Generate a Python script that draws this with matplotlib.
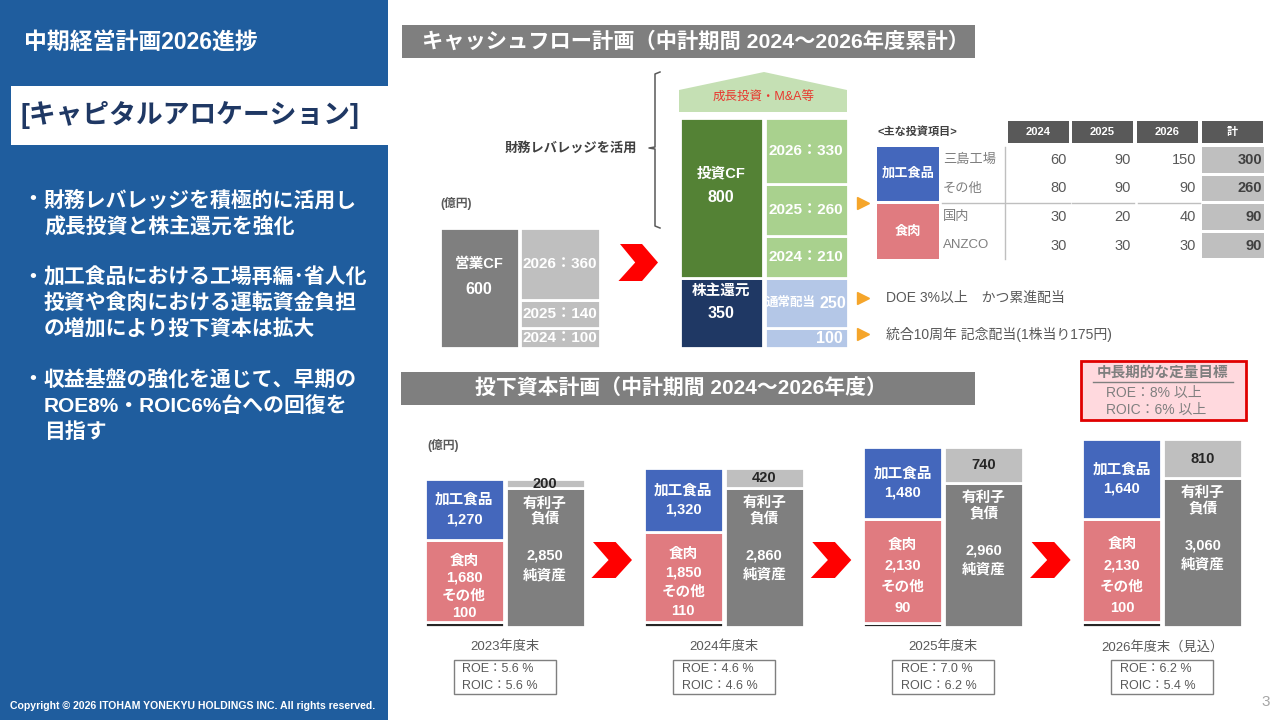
import matplotlib.pyplot as plt
from matplotlib.patches import Polygon, Rectangle

plt.rcParams["font.family"] = ["Liberation Sans", "Noto Sans CJK JP", "DejaVu Sans"]

# cash flow plan, 2024-2026 cumulative (億円)
cf_years = ["2024", "2025", "2026"]
operating_cf = [100, 140, 360]
investing_cf = [210, 260, 330]
dividend_names = ["", "通常配当"]
dividend_values = [100, 250]
dividend_notes = ["DOE 3%以上　かつ累進配当", "統合10周年 記念配当(1株当り175円)"]

# main investment items
item_groups = ["加工食品", "食肉"]
item_names = ["三島工場", "その他", "国内", "ANZCO"]
item_2024 = [60, 80, 30, 30]
item_2025 = [90, 90, 20, 30]
item_2026 = [150, 90, 40, 30]

# invested capital plan (億円)
periods = ["2023年度末", "2024年度末", "2025年度末", "2026年度末（見込）"]
processed_food = [1270, 1320, 1480, 1640]
fresh_meat = [1680, 1850, 2130, 2130]
other_assets = [100, 110, 90, 100]
debt = [200, 420, 740, 810]
net_assets = [2850, 2860, 2960, 3060]
roe = [5.6, 4.6, 7.0, 6.2]
roic = [5.6, 4.6, 6.2, 5.4]

bullets = [
    ["財務レバレッジを積極的に活用し", "成長投資と株主還元を強化"],
    ["加工食品における工場再編･省人化", "投資や食肉における運転資金負担", "の増加により投下資本は拡大"],
    ["収益基盤の強化を通じて、早期の", "ROE8%・ROIC6%台への回復を", "目指す"],
]

PANEL = "#1F5D9E"
NAVY = "#1F3864"
BLUE = "#4467BC"
PINK = "#E07B80"
DGREY = "#7F7F7F"
LGREY = "#BFBFBF"
GREEN = "#548235"
LGREEN = "#A9D18E"
ROOF = "#C5E0B4"
LBLUE = "#B4C7E7"
ORANGE = "#F5A52A"
RED = "#FF0000"
TXT = "#595959"

W, H = 1280, 720
fig = plt.figure(figsize=(12.8, 7.2), dpi=100)
bg = fig.add_axes([0, 0, 1, 1])
bg.set_xlim(0, W)
bg.set_ylim(H, 0)
bg.axis("off")


def bar_axes(base, top, px_per_unit):
    ax = fig.add_axes([0, 1 - base / H, 1, (base - top) / H])
    ax.set_xlim(0, W)
    ax.set_ylim(0, (base - top) / px_per_unit)
    ax.axis("off")
    return ax


def chevron(x0, y0, w, h):
    pts = [(x0, y0), (x0 + 0.58 * w, y0), (x0 + w, y0 + h / 2),
           (x0 + 0.58 * w, y0 + h), (x0 - 0.04 * w, y0 + h), (x0 + 0.4 * w, y0 + h / 2)]
    bg.add_patch(Polygon(pts, closed=True, color=RED, lw=0))


def title_bar(x, y, w, text, center=False):
    bg.add_patch(Rectangle((x, y), w, 33, color=DGREY, lw=0))
    if center:
        bg.text(x + w / 2 - 7, y + 17, text, color="white", fontsize=15, fontweight="bold",
                ha="center", va="center")
    else:
        bg.text(x + 20, y + 17, text, color="white", fontsize=15.3, fontweight="bold",
                ha="left", va="center")


# ---- left panel
bg.add_patch(Rectangle((0, 0), 388, H, color=PANEL, lw=0))
bg.text(24, 42, "中期経営計画2026進捗", color="white", fontsize=16.5, fontweight="bold", va="center")
bg.add_patch(Rectangle((11, 86), 377, 59, color="white", lw=0))
bg.text(21, 115, "[キャピタルアロケーション]", color=NAVY, fontsize=19.3, fontweight="bold", va="center")
y = 200
for block in bullets:
    bg.text(22, y, "・", color="white", fontsize=15, fontweight="bold", va="center")
    for line in block:
        bg.text(44, y, line, color="white", fontsize=15, fontweight="bold", va="center")
        y += 26
    y += 25
bg.text(10, 706, "Copyright © 2026 ITOHAM YONEKYU HOLDINGS INC. All rights reserved.",
        color="white", fontsize=7.55, fontweight="bold", va="center")
bg.text(1266, 702, "3", color="#A6A6A6", fontsize=11, ha="center", va="center")

# ---- cash flow plan
title_bar(402, 25, 573, "キャッシュフロー計画（中計期間 2024～2026年度累計）")
bg.text(440, 204, "(億円)", color=TXT, fontsize=8.5, fontweight="bold", va="center")

cf = bar_axes(348, 60, 0.2)
bar_kw = dict(edgecolor="white", linewidth=2)
lab_kw = dict(color="white", fontweight="bold", ha="center", va="center")

op_total = sum(operating_cf)
cf.bar(479, op_total, 79, color=DGREY, **bar_kw)
cf.annotate("営業CF", (479, op_total / 2), xytext=(0, 24), textcoords="offset pixels", fontsize=10.5, **lab_kw)
cf.annotate(f"{op_total}", (479, op_total / 2), xytext=(0, -1), textcoords="offset pixels", fontsize=11.5, **lab_kw)
bottom = 0
for year, v in zip(cf_years, operating_cf):
    cf.bar(560, v, 80, bottom=bottom, color=LGREY, **bar_kw)
    cf.text(560, bottom + v / 2, f"{year}：{v}", fontsize=11, **lab_kw)
    bottom += v

ret_total = sum(dividend_values)
inv_total = sum(investing_cf)
cf.bar(721, ret_total, 83, color=NAVY, **bar_kw)
cf.annotate("株主還元", (721, ret_total / 2), xytext=(0, 22), textcoords="offset pixels", fontsize=10.5, **lab_kw)
cf.annotate(f"{ret_total}", (721, ret_total / 2), xytext=(0, 0), textcoords="offset pixels", fontsize=11.5, **lab_kw)
cf.bar(721, inv_total, 83, bottom=ret_total, color=GREEN, **bar_kw)
cf.annotate("投資CF", (721, ret_total + inv_total / 2), xytext=(0, 25), textcoords="offset pixels", fontsize=10.5, **lab_kw)
cf.annotate(f"{inv_total}", (721, ret_total + inv_total / 2), xytext=(0, 0), textcoords="offset pixels", fontsize=11.5, **lab_kw)

bottom = 0
for name, v in zip(dividend_names, dividend_values):
    cf.bar(806, v, 83, bottom=bottom, color=LBLUE, **bar_kw)
    if name:
        cf.annotate(name, (806, bottom + v / 2), xytext=(10, 0), textcoords="offset pixels",
                    fontsize=9, color="white", fontweight="bold", ha="right", va="center")
        cf.annotate(f"{v}", (806, bottom + v / 2), xytext=(13, 0), textcoords="offset pixels",
                    fontsize=11.5, color="white", fontweight="bold", ha="left", va="center")
    else:
        cf.annotate(f"{v}", (847, bottom + v / 2), xytext=(-4, 0), textcoords="offset pixels",
                    fontsize=11.5, color="white", fontweight="bold", ha="right", va="center")
    bottom += v
for year, v in zip(cf_years, investing_cf):
    cf.bar(806, v, 83, bottom=bottom, color=LGREEN, **bar_kw)
    cf.text(806, bottom + v / 2, f"{year}：{v}", fontsize=11, **lab_kw)
    bottom += v

# roof, bracket, arrow
bg.add_patch(Polygon([(679, 112), (679, 90), (764, 72), (847, 90), (847, 112)], closed=True, color=ROOF, lw=0))
bg.text(764, 98, "成長投資・M&A等", color="#E8382F", fontsize=9, ha="center", va="center")
bg.plot([660, 655, 655, 649, 655, 655, 660], [72, 74, 147, 148, 149, 226, 228], color=TXT, lw=1.1)
bg.text(637, 148, "財務レバレッジを活用", color="#404040", fontsize=9.5, fontweight="bold", ha="right", va="center")
chevron(620, 244, 38, 37)

# investment table
bg.text(878, 131, "<主な投資項目>", color="#404040", fontsize=8, fontweight="bold", va="center")
col_left = [1008, 1072, 1137, 1202]
for x0, name in zip(col_left, cf_years + ["計"]):
    bg.add_patch(Rectangle((x0, 121), 61, 22, color=TXT, lw=0))
    bg.text(x0 + 30.5, 132, name, color="white", fontsize=8, fontweight="bold", ha="center", va="center")
group_bounds = [(147, 201), (204, 259)]
for name, (y0, y1), col in zip(item_groups, group_bounds, [BLUE, PINK]):
    bg.add_patch(Rectangle((877, y0), 62, y1 - y0, color=col, lw=0))
    bg.text(908, (y0 + y1) / 2, name, color="white", fontsize=9.5, fontweight="bold", ha="center", va="center")
row_bounds = [(147, 173), (176, 201), (204, 230), (233, 258)]
for (y0, y1), name, a, b, c in zip(row_bounds, item_names, item_2024, item_2025, item_2026):
    yc = (y0 + y1) / 2
    bg.text(943, yc, name, color=DGREY, fontsize=9.5, va="center")
    for x0, v in zip(col_left[:3], [a, b, c]):
        bg.text(x0 + 59, yc, f"{v}", color=TXT, fontsize=10.5, ha="right", va="center")
    bg.add_patch(Rectangle((1202, y0), 62, y1 - y0, color=LGREY, lw=0))
    bg.text(1262, yc, f"{a + b + c}", color="#404040", fontsize=10.5, fontweight="bold", ha="right", va="center")
bg.plot([1005, 1005], [147, 259], color=LGREY, lw=1)
for x0, x1 in [(942, 1004), (1006, 1070), (1072, 1134), (1138, 1200)]:
    bg.plot([x0, x1], [202.5, 202.5], color=LGREY, lw=1)

for yy in [203, 298, 334]:
    bg.plot(863, yy, marker=">", ms=9, color=ORANGE, ls="none")
for yy, note in zip([298, 334], dividend_notes):
    bg.text(886, yy, note, color=TXT, fontsize=10, va="center")

# ---- invested capital plan
title_bar(401, 372, 574, "投下資本計画（中計期間 2024～2026年度）", center=True)
bg.text(427, 445, "(億円)", color=TXT, fontsize=8.5, fontweight="bold", va="center")

ic = bar_axes(627, 420, 0.0486)
for i, period in enumerate(periods):
    lx = 464 + 219.3 * i
    rx = lx + 81
    o, m, p = other_assets[i], fresh_meat[i], processed_food[i]
    d, e = debt[i], net_assets[i]
    ic.bar(lx, o, 79, color="#262626", **bar_kw)
    ic.bar(lx, m, 79, bottom=o, color=PINK, **bar_kw)
    ic.bar(lx, p, 79, bottom=o + m, color=BLUE, **bar_kw)
    ic.bar(rx, e, 79, color=DGREY, **bar_kw)
    ic.bar(rx, d, 79, bottom=e, color=LGREY, **bar_kw)

    ic.text(lx, o + m + p / 2, f"加工食品\n{p:,}", fontsize=10.5, linespacing=1.45, **lab_kw)
    seg_px = (o + m) * 0.0486
    ls = min(max((seg_px - 10) / 58, 1.3), 1.65)
    ic.annotate(f"食肉\n{m:,}\nその他\n{o:,}", (lx, (o + m) / 2), xytext=(0, -3), textcoords="offset pixels",
                fontsize=10.5, linespacing=ls, **lab_kw)
    ic.text(rx, e + d / 2, f"{d}", color="#262626", fontsize=10.5, fontweight="bold", ha="center", va="center")
    ic.annotate("有利子\n負債", (rx, e), xytext=(0, -8), textcoords="offset pixels",
                fontsize=10.5, linespacing=1.15, color="white", fontweight="bold", ha="center", va="top")
    ic.annotate(f"{e:,}\n純資産", (rx, e), xytext=(0, -60), textcoords="offset pixels",
                fontsize=10.5, linespacing=1.5, color="white", fontweight="bold", ha="center", va="top")

    gx = (lx + rx) / 2
    bg.text(gx, 647, period, color=TXT, fontsize=9.5, ha="center", va="center")
    bg.add_patch(Rectangle((gx - 51, 660), 102, 34, facecolor="white", edgecolor=DGREY, lw=1))
    bg.text(gx - 42, 669, f"ROE：{roe[i]:.1f} %", color=TXT, fontsize=9, va="center")
    bg.text(gx - 42, 686, f"ROIC：{roic[i]:.1f} %", color=TXT, fontsize=9, va="center")
    if i < len(periods) - 1:
        chevron(rx + 48, 542, 39, 36)

# target box
bg.add_patch(Rectangle((1081, 361), 165, 59, facecolor="#FFD9DE", edgecolor="#E00000", lw=2))
bg.text(1163, 373, "中長期的な定量目標", color=DGREY, fontsize=10.5, fontweight="bold", ha="center", va="center")
bg.plot([1093, 1233], [381.5, 381.5], color=DGREY, lw=1)
bg.text(1106, 393, "ROE：8% 以上", color=DGREY, fontsize=10, va="center")
bg.text(1106, 410, "ROIC：6% 以上", color=DGREY, fontsize=10, va="center")

fig.savefig("out.png", dpi=100)
